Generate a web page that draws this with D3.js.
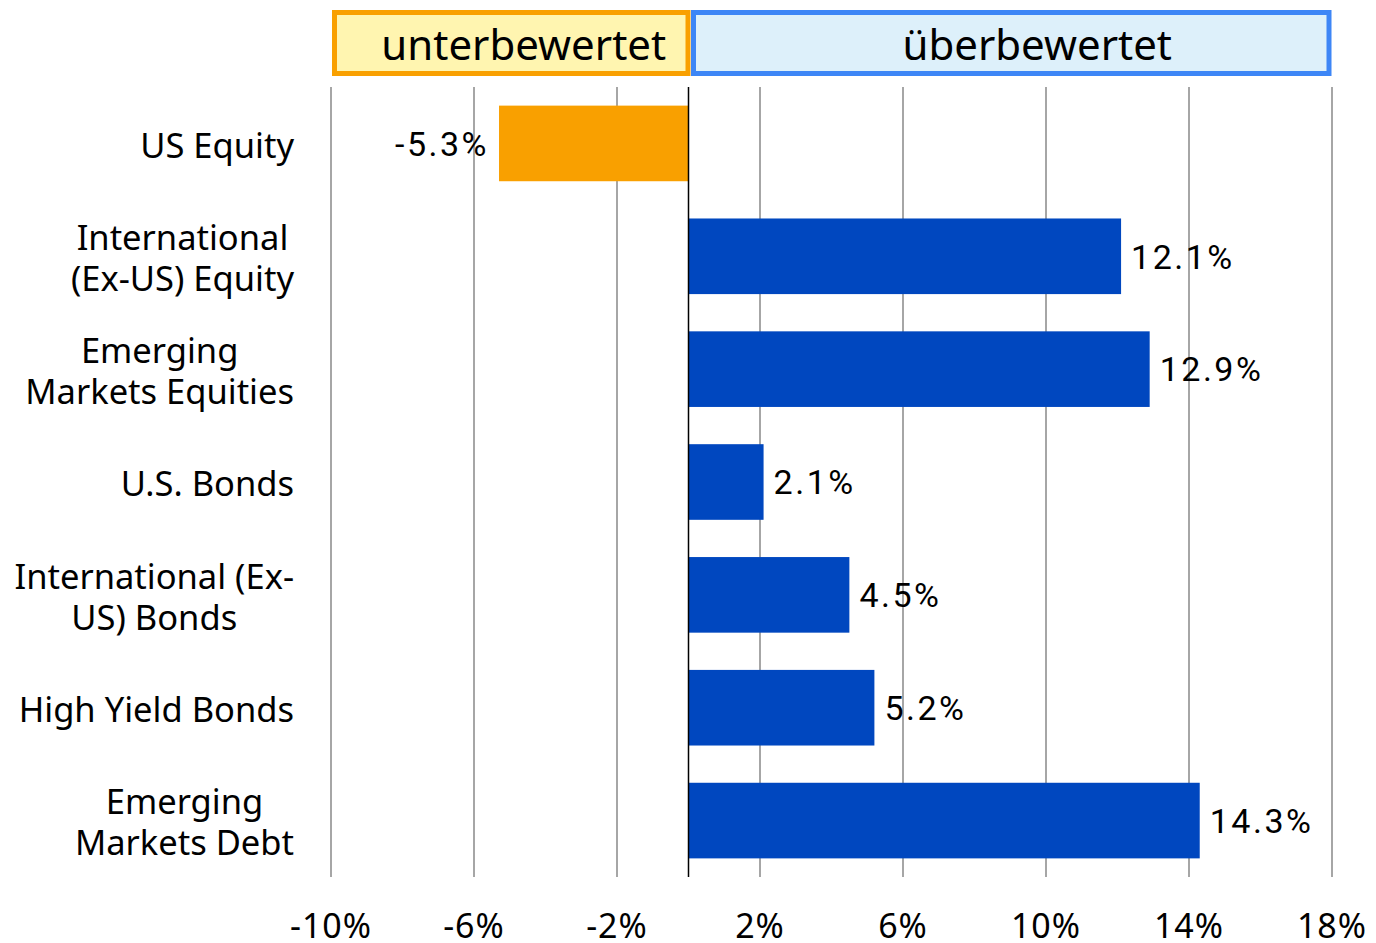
<!DOCTYPE html>
<html>
<head>
<meta charset="utf-8">
<script src="https://cdn.jsdelivr.net/npm/d3@7"></script>
<style>
  body { margin: 0; background: #fff; }
  svg { display: block; }
</style>
</head>
<body>
<div id="chart"></div>
<script>
// data
const categories = [
  ['US Equity'],
  ['International', '(Ex-US) Equity'],
  ['Emerging', 'Markets Equities'],
  ['U.S. Bonds'],
  ['International (Ex-', 'US) Bonds'],
  ['High Yield Bonds'],
  ['Emerging', 'Markets Debt']
];
const values = [-5.3, 12.1, 12.9, 2.1, 4.5, 5.2, 14.3];
const tickValues = [-10, -6, -2, 2, 6, 10, 14, 18];
const zoneLabels = ['unterbewertet', 'überbewertet'];

const width = 1376;
const height = 943;
const labelFont = '"Noto Sans", "Open Sans", sans-serif';
const valueFont = 'Roboto, sans-serif';

const svg = d3.select('#chart').append('svg')
  .attr('width', width)
  .attr('height', height);

const x = d3.scaleLinear().domain([-10, 18]).range([331, 1332]);
const y = d3.scaleBand()
  .domain(d3.range(categories.length))
  .range([87, 877])
  .paddingInner(0.33)
  .paddingOuter(0.165);

// header boxes
const zones = [
  { label: zoneLabels[0], x0: -10, x1: 0, fill: '#FFF5B0', stroke: '#F9A000', shift: 14 },
  { label: zoneLabels[1], x0: 0, x1: 18, fill: '#DDF0FA', stroke: '#3D86F6', shift: 27 }
];
const zoneG = svg.selectAll('.zone').data(zones).enter().append('g').attr('class', 'zone');
zoneG.append('rect')
  .attr('x', (d, i) => x(d.x0) + (i === 0 ? 3.5 : 5))
  .attr('y', 12.5)
  .attr('width', (d, i) => x(d.x1) - x(d.x0) - (i === 0 ? 4 : 8))
  .attr('height', 61)
  .attr('fill', d => d.fill)
  .attr('stroke', d => d.stroke)
  .attr('stroke-width', 5);
zoneG.append('text')
  .attr('x', d => (x(d.x0) + x(d.x1)) / 2 + d.shift)
  .attr('y', 60)
  .attr('text-anchor', 'middle')
  .style('font-family', labelFont)
  .style('font-size', '42px')
  .attr('fill', '#000')
  .text(d => d.label);

// gridlines
svg.append('g')
  .selectAll('line')
  .data(tickValues)
  .enter().append('line')
  .attr('x1', d => x(d)).attr('x2', d => x(d))
  .attr('y1', 87).attr('y2', 877)
  .attr('stroke', '#A6A6A6')
  .attr('stroke-width', 2);

// bars
svg.append('g')
  .selectAll('rect')
  .data(values)
  .enter().append('rect')
  .attr('x', d => x(Math.min(0, d)))
  .attr('y', (d, i) => y(i))
  .attr('width', d => Math.abs(x(d) - x(0)))
  .attr('height', y.bandwidth())
  .attr('fill', d => d < 0 ? '#F9A000' : '#0047BF');

// zero line
svg.append('line')
  .attr('x1', x(0)).attr('x2', x(0))
  .attr('y1', 87).attr('y2', 877)
  .attr('stroke', '#000')
  .attr('stroke-width', 1.5);

// value labels
svg.append('g')
  .selectAll('text')
  .data(values)
  .enter().append('text')
  .attr('x', d => d < 0 ? x(d) - 10 : x(d) + 10)
  .attr('y', (d, i) => y(i) + y.bandwidth() / 2)
  .attr('dy', '0.36em')
  .attr('text-anchor', d => d < 0 ? 'end' : 'start')
  .style('font-family', valueFont)
  .style('font-size', '34px')
  .style('letter-spacing', '2.5px')
  .attr('fill', '#000')
  .text(d => d.toFixed(1) + '%');

// category labels (multi-line blocks, lines centered, block right aligned)
const labelRight = 294;
const lineH = 41;
const catG = svg.append('g');
categories.forEach((lines, i) => {
  const g = catG.append('g');
  const cy = y(i) + y.bandwidth() / 2;
  const texts = lines.map((line, j) => g.append('text')
    .attr('y', cy + 2 + (j - (lines.length - 1) / 2) * lineH)
    .attr('dy', '0.36em')
    .attr('text-anchor', 'middle')
    .style('font-family', labelFont)
    .style('font-size', '34.5px')
    .attr('fill', '#000')
    .text(line));
  const maxW = d3.max(texts, t => t.node().getComputedTextLength());
  texts.forEach(t => t.attr('x', labelRight - maxW / 2));
});

// x axis labels
svg.append('g')
  .selectAll('text')
  .data(tickValues)
  .enter().append('text')
  .attr('x', d => x(d))
  .attr('y', 938)
  .attr('text-anchor', 'middle')
  .style('font-family', labelFont)
  .style('font-size', '34px')
  .style('letter-spacing', '1px')
  .attr('fill', '#000')
  .text(d => d + '%');
</script>
</body>
</html>
